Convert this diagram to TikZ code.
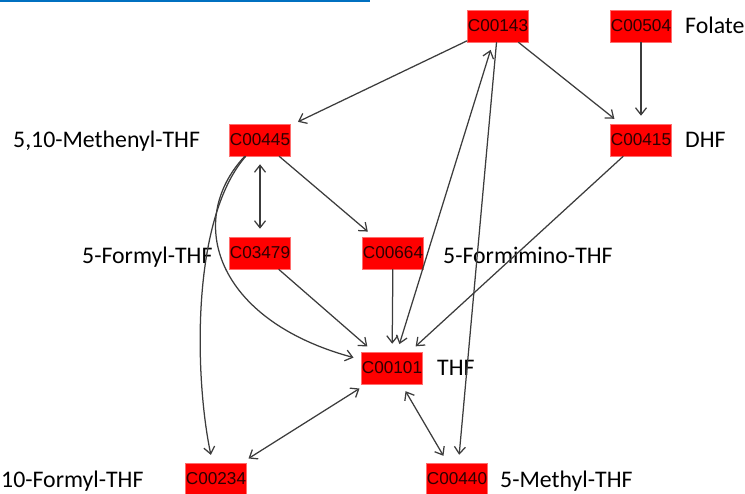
\documentclass[tikz,border=0pt]{standalone}
\usepackage{fontspec}
\setmainfont{Carlito}
\newfontfamily\codefont{Liberation Sans}
\usetikzlibrary{arrows.meta}
\definecolor{edgegray}{RGB}{60,60,60}
\definecolor{codetext}{RGB}{45,0,0}
\definecolor{boxedge}{RGB}{255,110,110}
\definecolor{linkblue}{RGB}{0,112,192}
\tikzset{
  cpd/.style={rectangle, fill=red, draw=boxedge, line width=0.5pt, minimum width=61pt, minimum height=32pt, inner sep=0pt, font=\codefont\fontsize{17.2}{17.2}\selectfont, text=codetext},
  lbl/.style={anchor=base west, inner sep=0pt, font=\fontsize{23.8}{25}\selectfont, text=black},
  rxn/.style={draw=edgegray, line width=1.25pt, -{Straight Barb[length=7pt,width=11pt]}, shorten >=8pt},
  rxn2/.style={draw=edgegray, line width=1.25pt, {Straight Barb[length=7pt,width=11pt]}-{Straight Barb[length=7pt,width=11pt]}, shorten >=8pt, shorten <=8pt}
}
\begin{document}
\begin{tikzpicture}[x=1pt,y=-1pt]
\useasboundingbox (0,0) rectangle (745,494);
\draw[linkblue, line width=1.5pt] (0,0.8) -- (370,0.8);
% compounds
\node[cpd] (c00143) at (498,26) {C00143};
\node[cpd] (c00504) at (641,26) {C00504};
\node[cpd] (c00445) at (260,140) {C00445};
\node[cpd] (c00415) at (641,140) {C00415};
\node[cpd] (c03479) at (260,253) {C03479};
\node[cpd] (c00664) at (393,253) {C00664};
\node[cpd] (c00101) at (392,368) {C00101};
\node[cpd] (c00234) at (216,479) {C00234};
\node[cpd] (c00440) at (457,479) {C00440};
% names
\node[lbl] (nfol) at (685,34) {Folate};
\node[lbl] (ndhf) at (685,148) {DHF};
\node[lbl] (nmeth) at (13,148) {5,10-Methenyl-THF};
\node[lbl] (nformyl) at (82,264) {5-Formyl-THF};
\node[lbl] (nformim) at (443,264) {5-Formimino-THF};
\node[lbl] (nthf) at (437,376) {THF};
\node[lbl] (n10f) at (1,487) {10-Formyl-THF};
\node[lbl] (nmet) at (500,487) {5-Methyl-THF};
% reactions
\draw[rxn] (c00143) -- (c00445);
\draw[rxn] (c00143) -- (c00415);
\draw[rxn] (c00504) -- (c00415);
\draw[rxn2] (c00445) -- (c03479);
\draw[rxn] (c00445) -- (c00664);
\draw[rxn] (c00445) .. controls (185,220) and (215,320) .. (c00101);
\draw[rxn] (c00445) .. controls (190,220) and (195,380) .. (c00234);
\draw[rxn] (c03479) -- (c00101);
\draw[rxn] (c00664) -- (c00101);
\draw[rxn] (c00415) -- (c00101);
\draw[rxn2] (c00101) -- (c00143);
\draw[rxn] (c00143) -- (c00440);
\draw[rxn2] (c00101) -- (c00234);
\draw[rxn2] (c00101) -- (c00440);
\end{tikzpicture}
\end{document}
